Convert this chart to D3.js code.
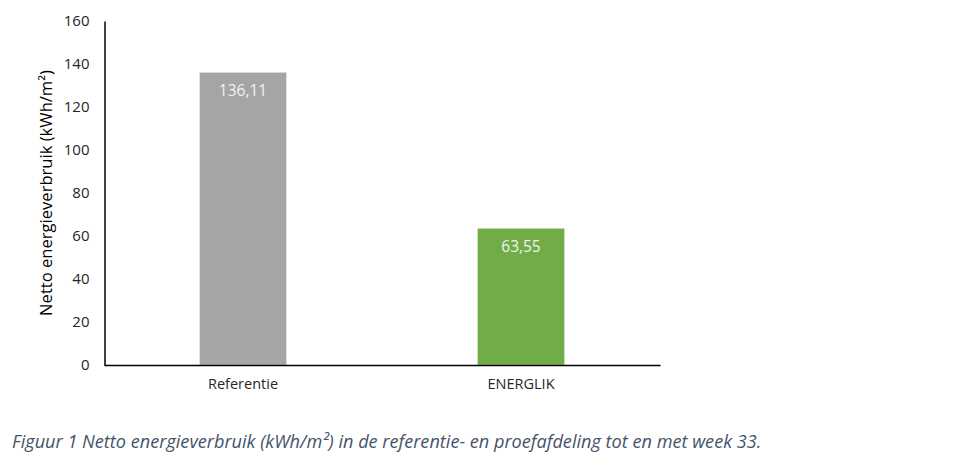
<!DOCTYPE html>
<html><head><meta charset="utf-8">
<script src="https://cdn.jsdelivr.net/npm/d3@7"></script>
<style>body{margin:0;background:#fff;} text{font-family:"Open Sans", sans-serif; font-variant-ligatures:none;}</style>
</head><body>
<svg id="c" width="960" height="472"></svg>
<script>
const categories = ["Referentie", "ENERGLIK"];
const values = [136.11, 63.55];
const valueLabels = ["136,11", "63,55"];
const barColors = ["#A5A5A5", "#70AD47"];
const yTicks = [0, 20, 40, 60, 80, 100, 120, 140, 160];
const yTitle = "Netto energieverbruik (kWh/m²)";
const caption = "Figuur 1 Netto energieverbruik (kWh/m²) in de referentie- en proefafdeling tot en met week 33.";

const svg = d3.select("#c");
const x = d3.scaleBand().domain(categories).range([104, 660]).paddingInner(0.687).paddingOuter(0.3435);
const y = d3.scaleLinear().domain([0, 160]).range([365, 21]);

svg.selectAll("rect.bar").data(values).join("rect")
  .attr("class","bar")
  .attr("x",(d,i)=>x(categories[i]))
  .attr("width",x.bandwidth())
  .attr("y",d=>y(d))
  .attr("height",d=>y(0)-y(d))
  .attr("fill",(d,i)=>barColors[i])
  .attr("stroke","rgba(255,255,255,0.35)").attr("stroke-width",1);

svg.selectAll("text.val").data(values).join("text")
  .attr("class","val")
  .attr("x",(d,i)=>x(categories[i])+x.bandwidth()/2)
  .attr("y",d=>y(d)+24)
  .attr("text-anchor","middle")
  .attr("fill","#F2F2F2").attr("font-size",15.5)
  .text((d,i)=>valueLabels[i]);

const yAxis = d3.axisLeft(y).tickValues(yTicks).tickSize(0).tickPadding(15);
const gy = svg.append("g").attr("transform","translate(104.5,0)").call(yAxis);
gy.select(".domain").attr("stroke","#000").attr("stroke-width",1.5);
gy.selectAll(".tick text").attr("font-size",15).attr("fill","#262626").attr("font-family","'Open Sans', sans-serif");

const xAxis = d3.axisBottom(x).tickSize(0).tickPadding(14);
const gx = svg.append("g").attr("transform","translate(0,365)").call(xAxis);
gx.select(".domain").attr("stroke","#000").attr("stroke-width",1.5);
gx.selectAll(".tick text").attr("font-size",14.5).attr("fill","#262626").attr("font-family","'Open Sans', sans-serif");

const yt = svg.append("text").attr("transform","translate(52,193) rotate(-90)")
  .attr("text-anchor","middle").attr("font-size",15).attr("fill","#000").text(yTitle);

const cap = svg.append("text").attr("x",12).attr("y",448).attr("font-size",16).attr("font-style","italic")
  .attr("fill","#44546A").text(caption);

// fit widths to the reference layout
function fit(sel, w){ const l = sel.node().getComputedTextLength(); sel.attr("font-size", +sel.attr("font-size")*w/l); }
fit(yt, 246);
fit(cap, 750);
</script>
</body></html>
